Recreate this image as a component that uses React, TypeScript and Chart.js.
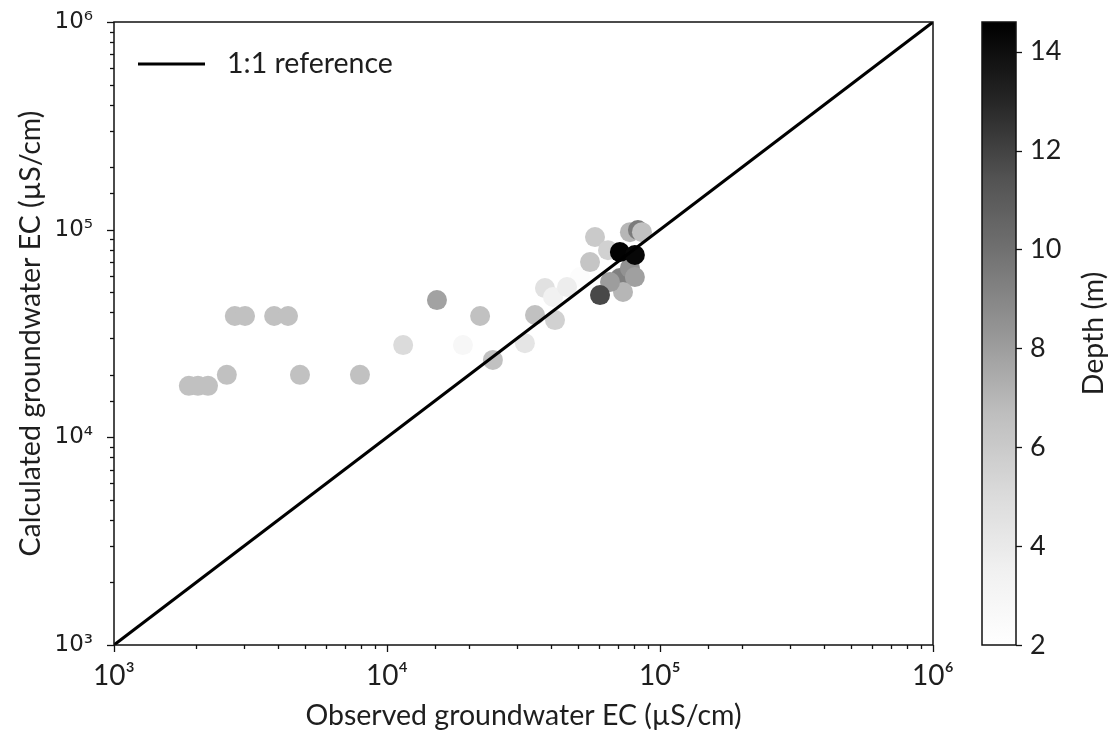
import React, { useEffect, useRef } from "react";
import { Chart, registerables } from "chart.js";

Chart.register(...registerables);

// Observed groundwater EC (µS/cm) — in plotting order
const observedEC = [
  1880, 2030, 2210, 2590, 4800, 7960, 2770, 3020, 3860, 4340,
  15240, 21930, 11460, 18970, 24430, 34850, 41250, 32000, 37900, 40560,
  50900, 55430, 57800, 64500, 45650, 77600, 83000, 85900, 71300, 77600,
  80900, 73200, 65600, 60300, 71300, 80900,
];
// Calculated groundwater EC (µS/cm)
const calculatedEC = [
  17700, 17700, 17700, 20000, 20000, 20000, 38400, 38400, 38400, 38400,
  45800, 38400, 27800, 27800, 23600, 38800, 36700, 28400, 52300, 47400,
  59100, 69800, 92100, 79700, 52900, 97300, 99600, 97300, 58500, 65300,
  59100, 50100, 55900, 48400, 78000, 75500,
];
// Depth (m)
const depthM = [
  6.5, 6.5, 6.5, 6.5, 6.5, 6.5, 6.5, 6.5, 6.5, 6.5,
  7.8, 6.5, 5.0, 2.8, 6.5, 6.5, 5.6, 4.3, 4.6, 3.5,
  2.3, 6.3, 6.0, 5.6, 3.8, 7.0, 9.5, 6.5, 9.3, 8.5,
  7.9, 7.0, 8.0, 11.8, 14.5, 14.3,
];

const refLineX = [1e3, 1e6];
const refLineY = [1e3, 1e6];
const axisMin = 1e3;
const axisMax = 1e6;
const depthMin = 2;
const depthMax = 14.6;
const depthTicks = [2, 4, 6, 8, 10, 12, 14];
const legendLabel = "1:1 reference";
const xTitle = "Observed groundwater EC (µS/cm)";
const yTitle = "Calculated groundwater EC (µS/cm)";
const cbarTitle = "Depth (m)";

// matplotlib "Greys" colormap anchor levels
const greysStops = [255, 240, 217, 189, 150, 115, 82, 37, 0];

function greyLevel(t: number): number {
  const tt = Math.max(0, Math.min(1, t));
  const pos = tt * (greysStops.length - 1);
  const i = Math.min(Math.floor(pos), greysStops.length - 2);
  const f = pos - i;
  return Math.round(greysStops[i] + (greysStops[i + 1] - greysStops[i]) * f);
}
function depthColor(d: number): string {
  const v = greyLevel((d - depthMin) / (depthMax - depthMin));
  return `rgb(${v},${v},${v})`;
}

const SUP: Record<string, string> = {
  "0": "⁰", "1": "¹", "2": "²", "3": "³", "4": "⁴", "5": "⁵", "6": "⁶", "7": "⁷", "8": "⁸", "9": "⁹", "-": "⁻",
};
function powLabel(v: number): string {
  const l = Math.log10(v);
  if (Math.abs(l - Math.round(l)) > 1e-9) return "";
  return "10" + String(Math.round(l)).split("").map((c) => SUP[c] || c).join("");
}
function isMajor(v: number): boolean {
  const l = Math.log10(v);
  return Math.abs(l - Math.round(l)) < 1e-9;
}
function noPad(s: any) {
  s.paddingTop = 0;
  s.paddingBottom = 0;
  s.paddingLeft = 0;
  s.paddingRight = 0;
}

const TEXT = "#1e1e1e";
const CAL = "Lato, 'Open Sans', sans-serif";
const VER = "'DejaVu Sans', Verdana, sans-serif";
const TITLE_SIZE = 28.5;

const decorPlugin = {
  id: "decor",
  afterDatasetsDraw(chart: any) {
    const { ctx, chartArea: a, scales } = chart;
    ctx.save();
    // frame
    ctx.strokeStyle = "#111";
    ctx.lineWidth = 1.5;
    ctx.strokeRect(a.left, a.top, a.right - a.left, a.bottom - a.top);
    // x ticks
    const xs = scales.x;
    ctx.lineWidth = 1.3;
    xs.ticks.forEach((t: any) => {
      const px = Math.round(xs.getPixelForValue(t.value)) + 0.5;
      const len = isMajor(t.value) ? 7 : 4;
      ctx.beginPath();
      ctx.moveTo(px, a.bottom);
      ctx.lineTo(px, a.bottom + len);
      ctx.stroke();
    });
    const ys = scales.y;
    ys.ticks.forEach((t: any) => {
      const py = Math.round(ys.getPixelForValue(t.value)) + 0.5;
      const len = isMajor(t.value) ? 7 : 4;
      ctx.beginPath();
      ctx.moveTo(a.left, py);
      ctx.lineTo(a.left - len, py);
      ctx.stroke();
    });

    // legend (inside plot, upper left)
    ctx.strokeStyle = "#000";
    ctx.lineWidth = 3;
    ctx.beginPath();
    ctx.moveTo(138, 64);
    ctx.lineTo(205, 64);
    ctx.stroke();
    ctx.fillStyle = TEXT;
    ctx.font = `${TITLE_SIZE}px ${CAL}`;
    ctx.textAlign = "left";
    ctx.textBaseline = "middle";
    ctx.fillText(legendLabel, 227, 64);

    // colorbar
    const cs = scales.depth;
    const cx = 982;
    const cw = 34;
    const top = cs.getPixelForValue(depthMax);
    const bot = cs.getPixelForValue(depthMin);
    const g = ctx.createLinearGradient(0, bot, 0, top);
    for (let i = 0; i <= 40; i++) {
      const v = greyLevel(i / 40);
      g.addColorStop(i / 40, `rgb(${v},${v},${v})`);
    }
    ctx.fillStyle = g;
    ctx.fillRect(cx, top, cw, bot - top);
    ctx.strokeStyle = "#111";
    ctx.lineWidth = 1.5;
    ctx.strokeRect(cx, top, cw, bot - top);
    ctx.lineWidth = 1.3;
    cs.ticks.forEach((t: any) => {
      const py = Math.round(cs.getPixelForValue(t.value)) + 0.5;
      ctx.beginPath();
      ctx.moveTo(cx + cw, py);
      ctx.lineTo(cx + cw + 6, py);
      ctx.stroke();
    });
    ctx.save();
    ctx.translate(1094, (top + bot) / 2);
    ctx.rotate(-Math.PI / 2);
    ctx.fillStyle = TEXT;
    ctx.font = `${TITLE_SIZE}px ${CAL}`;
    ctx.textAlign = "center";
    ctx.textBaseline = "middle";
    ctx.fillText(cbarTitle, 0, 0);
    ctx.restore();
    ctx.restore();
  },
};

export default function App() {
  const ref = useRef<HTMLCanvasElement | null>(null);

  useEffect(() => {
    document.body.style.margin = "0";
    const canvas = ref.current;
    if (!canvas) return;

    const pts = observedEC.map((x, i) => ({ x, y: calculatedEC[i] }));
    const cols = depthM.map((d) => depthColor(d));
    const line = refLineX.map((x, i) => ({ x, y: refLineY[i] }));

    const chart = new Chart(canvas, {
      type: "scatter",
      data: {
        datasets: [
          {
            label: legendLabel,
            data: line,
            showLine: true,
            borderColor: "#000",
            borderWidth: 3,
            pointRadius: 0,
            order: 0,
          } as any,
          {
            label: "samples",
            data: pts,
            backgroundColor: cols,
            pointBackgroundColor: cols,
            pointRadius: 10,
            pointBorderWidth: 0,
            borderWidth: 0,
            order: 1,
          } as any,
        ],
      },
      options: {
        responsive: false,
        animation: false,
        devicePixelRatio: 1,
        layout: { autoPadding: false, padding: { top: 22, right: 0, bottom: 0, left: 0 } },
        plugins: {
          legend: { display: false },
          tooltip: { enabled: false },
        },
        scales: {
          x: {
            type: "logarithmic",
            position: "bottom",
            min: axisMin,
            max: axisMax,
            grid: { display: false, drawTicks: false },
            border: { display: false },
            afterFit: (s: any) => {
              s.height = 93;
              noPad(s);
            },
            ticks: {
              autoSkip: false,
              maxRotation: 0,
              padding: 14,
              color: TEXT,
              font: { family: CAL, size: 28 },
              callback: (v: any) => powLabel(Number(v)),
            },
            title: {
              display: true,
              text: xTitle,
              color: TEXT,
              font: { family: CAL, size: TITLE_SIZE },
              padding: { top: 0, bottom: 5 },
            },
          },
          y: {
            type: "logarithmic",
            position: "left",
            min: axisMin,
            max: axisMax,
            grid: { display: false, drawTicks: false },
            border: { display: false },
            afterFit: (s: any) => {
              s.width = 114;
              noPad(s);
            },
            ticks: {
              autoSkip: false,
              padding: 21,
              color: TEXT,
              font: { family: VER, size: 23 },
              callback: (v: any) => powLabel(Number(v)),
            },
            title: {
              display: true,
              text: yTitle,
              color: TEXT,
              font: { family: CAL, size: TITLE_SIZE },
              padding: { top: 14, bottom: 0 },
            },
          },
          depth: {
            type: "linear",
            position: "right",
            min: depthMin,
            max: depthMax,
            grid: { display: false, drawTicks: false },
            border: { display: false },
            afterFit: (s: any) => {
              s.width = 179;
              noPad(s);
            },
            afterBuildTicks: (s: any) => {
              s.ticks = depthTicks.map((v) => ({ value: v }));
            },
            ticks: {
              padding: 97,
              color: TEXT,
              font: { family: CAL, size: 27 },
              callback: (v: any) => String(v),
            },
          },
        },
      },
      plugins: [decorPlugin],
    });
    return () => chart.destroy();
  }, []);

  return (
    <div style={{ width: 1112, height: 738 }}>
      <canvas ref={ref} width={1112} height={738} style={{ display: "block" }} />
    </div>
  );
}
